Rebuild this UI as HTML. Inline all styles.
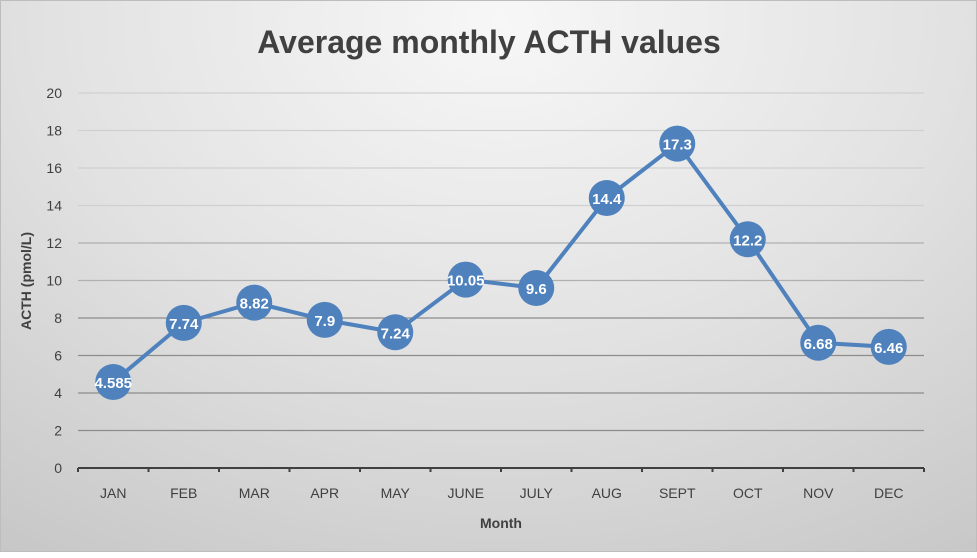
<!DOCTYPE html>
<html><head><meta charset="utf-8"><style>
body{margin:0;width:977px;height:552px;overflow:hidden;font-family:"Liberation Sans",sans-serif}
#c{position:absolute;left:0;top:0;width:977px;height:552px;background:radial-gradient(ellipse 900px 650px at 500px 20px,#f7f7f7 0%,#e2e2e2 50%,#c6c6c6 100%);border:1px solid #bdbdbd;box-sizing:border-box}
</style></head><body>
<div id="c">
<svg width="977" height="552" id="s">
<text x="488" y="52" text-anchor="middle" font-size="32" font-weight="bold" fill="#404040">Average monthly ACTH values</text>
<text transform="translate(30,280) rotate(-90)" text-anchor="middle" font-size="14" font-weight="bold" fill="#404040">ACTH  (pmol/L)</text>
<text x="500" y="527" text-anchor="middle" font-size="14" font-weight="bold" fill="#404040">Month</text>
<g id="grid"></g><g id="axes"></g><g id="series"></g>
</svg></div>
<script>
const categories=["JAN","FEB","MAR","APR","MAY","JUNE","JULY","AUG","SEPT","OCT","NOV","DEC"];
const values=[4.585,7.74,8.82,7.9,7.24,10.05,9.6,14.4,17.3,12.2,6.68,6.46];
const labels=["4.585","7.74","8.82","7.9","7.24","10.05","9.6","14.4","17.3","12.2","6.68","6.46"];
const yTicks=[0,2,4,6,8,10,12,14,16,18,20];
const L=77,R=923,T=92,B=467,ymax=20;
const step=(R-L)/categories.length;
const xs=i=>L+step*(i+0.5);
const ys=v=>B-(v/ymax)*(B-T);
const NS="http://www.w3.org/2000/svg";
function mk(t,a,p){const e=document.createElementNS(NS,t);for(const k in a)e.setAttribute(k,a[k]);p.appendChild(e);return e;}
const g=document.getElementById('grid'),ax=document.getElementById('axes'),se=document.getElementById('series');
yTicks.forEach(v=>{
 if(v>0){const ln=mk('line',{x1:L,x2:R,y1:ys(v),y2:ys(v),stroke:v>=14?'#d0d0d0':(v>=10?'#b0b0b0':'#8c8c8c'),'stroke-width':1.3},g);
 
 }
 const t=mk('text',{x:61,y:ys(v)+5,'text-anchor':'end','font-size':14,fill:'#404040'},ax);t.textContent=v;
 
 
});
const axl=mk('line',{x1:L,x2:R,y1:B,y2:B,stroke:'#404040','stroke-width':2},ax);


for(let i=0;i<=categories.length;i++){const tk=mk('line',{x1:L+step*i,x2:L+step*i,y1:B,y2:B+4,stroke:'#404040','stroke-width':2},ax);
 
 }
categories.forEach((c,i)=>{const t=mk('text',{x:xs(i),y:497,'text-anchor':'middle','font-size':14,fill:'#404040'},ax);t.textContent=c;
 
 });
const pl=mk('polyline',{points:values.map((v,i)=>xs(i)+','+ys(v)).join(' '),fill:'none',stroke:'#4f81bd','stroke-width':4},se);


values.forEach((v,i)=>{
 const c=mk('circle',{cx:xs(i),cy:ys(v),r:18,fill:'#4f81bd'},se);
 
 
 const t=mk('text',{x:xs(i),y:ys(v)+6,'text-anchor':'middle','font-size':15,'font-weight':'bold',fill:'#fff'},se);t.textContent=labels[i];
 
 
});
</script></body></html>
